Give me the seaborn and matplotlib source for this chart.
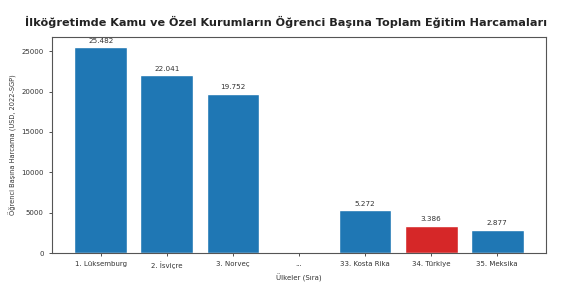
import matplotlib
matplotlib.use("Agg")
import matplotlib.pyplot as plt
import seaborn as sns
import pandas as pd

categories = ["1. Lüksemburg", "2. İsviçre", "3. Norveç", "...", "33. Kosta Rika", "34. Türkiye", "35. Meksika"]
values = [25482, 22041, 19752, 0, 5272, 3386, 2877]
value_labels = ["25.482", "22.041", "19.752", "", "5.272", "3.386", "2.877"]
bar_colors = ["#1f77b4", "#1f77b4", "#1f77b4", "#1f77b4", "#1f77b4", "#d62728", "#1f77b4"]
yticks = [0, 5000, 10000, 15000, 20000, 25000]

sns.set_style("ticks")
plt.rcParams['font.family'] = ['DejaVu Sans']

df = pd.DataFrame({"cat": categories, "val": values})
fig = plt.figure(figsize=(5.7, 2.85), dpi=100)
ax = fig.add_axes([52/570, 1-253/285, (546-52)/570, (253-37)/285])
sns.barplot(data=df, x="cat", y="val", hue="cat", palette=dict(zip(categories, bar_colors)),
            legend=False, saturation=1, width=0.8, ax=ax)
for cont, lab in zip(ax.containers, value_labels):
    ax.bar_label(cont, labels=[lab], padding=2.5, fontsize=5.2, color="#333333")
ax.set_xlim(-0.74, 6.74)
ax.set_ylim(0, 25482*1.05)
ax.set_yticks(yticks)
ax.tick_params(labelsize=5, length=2.5, width=0.6, colors="#333333")
for s in ax.spines.values():
    s.set_visible(True)
    s.set_linewidth(0.8)
    s.set_color("#555555")
ax.set_xlabel("Ülkeler (Sıra)", fontsize=5, color="#333333", labelpad=3)
ax.set_ylabel("Öğrenci Başına Harcama (USD, 2022-SGP)", fontsize=4.8, color="#333333", labelpad=3)
fig.suptitle("İlköğretimde Kamu ve Özel Kurumların Öğrenci Başına Toplam Eğitim Harcamaları",
             x=0.502, y=1-22/285, va="center", fontsize=8.1, fontweight="bold", color="#222222")
fig.savefig("out.png", dpi=100, facecolor="white")
